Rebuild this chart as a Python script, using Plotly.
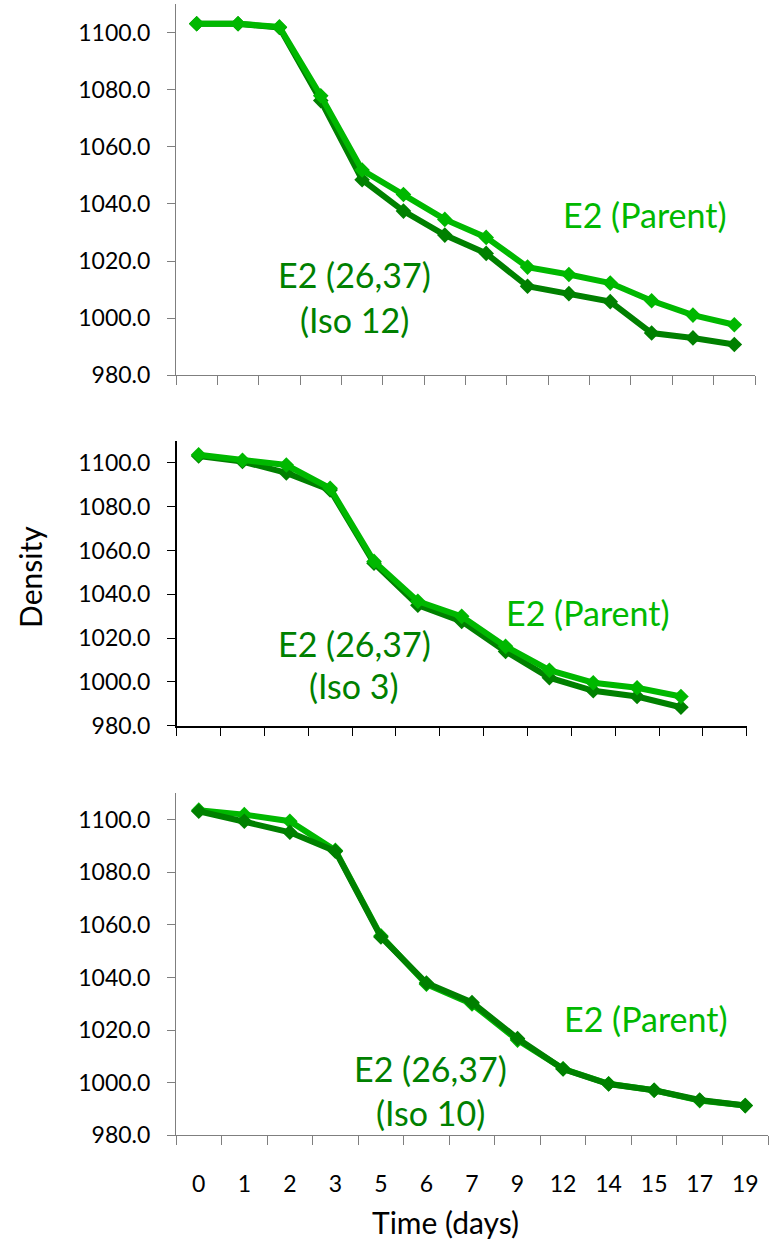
import plotly.graph_objects as go

# Sampling days shown on the shared time axis
days = ["0", "1", "2", "3", "5", "6", "7", "9", "12", "14", "15", "17", "19"]

# Panel 1: parent vs. Iso 12 (14 sampling slots, unlabelled)
p1_parent = [1103.1, 1103.1, 1102.0, 1077.9, 1051.9, 1043.3, 1034.6, 1028.3,
             1017.9, 1015.3, 1012.3, 1006.1, 1001.1, 997.7]
p1_iso = [1103.1, 1103.1, 1101.8, 1076.2, 1048.5, 1037.5, 1029.1, 1022.7,
          1011.2, 1008.6, 1005.8, 994.8, 993.1, 990.8]

# Panel 2: parent vs. Iso 3 (no sample on day 19)
p2_parent = [1103.7, 1101.2, 1099.0, 1088.4, 1055.0, 1036.8, 1029.9, 1016.2,
             1005.3, 999.6, 997.3, 993.3]
p2_iso = [1103.1, 1100.6, 1095.4, 1087.6, 1054.2, 1035.0, 1027.6, 1013.9,
          1001.9, 995.9, 993.3, 988.4]

# Panel 3: parent vs. Iso 10
p3_parent = [1103.6, 1101.9, 1099.4, 1088.3, 1055.8, 1037.4, 1029.9, 1016.2,
             1005.3, 999.6, 997.1, 993.2, 991.3]
p3_iso = [1103.2, 1099.4, 1095.2, 1088.0, 1055.4, 1037.9, 1030.5, 1016.8,
          1005.2, 999.5, 997.1, 993.4, 991.3]

y_ticks = [980, 1000, 1020, 1040, 1060, 1080, 1100]
y_range = [980, 1110]

LIGHT = "#00B800"
DARK = "#008000"
FONT = "Lato"
W, H = 769, 1243


def px_x(v):
    return v / W


def px_y(v):
    return 1 - v / H


fig = go.Figure()


def add_series(x, y, color, xa, ya):
    fig.add_trace(go.Scatter(
        x=x, y=y, xaxis=xa, yaxis=ya, mode="lines+markers",
        line=dict(color=color, width=6),
        marker=dict(symbol="diamond", size=12, color=color),
        showlegend=False, hoverinfo="skip",
    ))


top_slots = [str(i) for i in range(len(p1_parent))]

# upper panel: light line above dark
add_series(top_slots, p1_iso, DARK, "x", "y")
add_series(top_slots, p1_parent, LIGHT, "x", "y")
# middle panel
add_series(days[:len(p2_iso)], p2_iso, DARK, "x2", "y2")
add_series(days[:len(p2_parent)], p2_parent, LIGHT, "x2", "y2")
# lower panel: dark line above light
add_series(days, p3_parent, LIGHT, "x3", "y3")
add_series(days, p3_iso, DARK, "x3", "y3")

tick_font = dict(family=FONT, size=23, color="#000000")


def x_axis(domain, anchor, cats, labels, color, width):
    return dict(
        domain=domain, anchor=anchor, type="category",
        categoryorder="array", categoryarray=cats,
        range=[-0.5, len(cats) - 0.5],
        tickson="boundaries", ticks="outside", ticklen=9, tickwidth=1,
        tickcolor=color, showline=True, linecolor=color, linewidth=width,
        showgrid=False, zeroline=False, showticklabels=labels,
        tickfont=tick_font, ticklabelstandoff=28, fixedrange=True,
    )


def y_axis(domain, anchor, color, width):
    return dict(
        domain=domain, anchor=anchor, range=y_range,
        tickvals=y_ticks, tickformat=".1f", ticks="outside", ticklen=8,
        tickwidth=1, tickcolor=color, showline=True, linecolor=color,
        linewidth=width, showgrid=False, zeroline=False,
        tickfont=tick_font, ticklabelstandoff=12, fixedrange=True,
    )


GRAY = "#7F7F7F"
fig.update_layout(
    width=W, height=H, autosize=False,
    margin=dict(l=0, r=0, t=0, b=0),
    paper_bgcolor="white", plot_bgcolor="white",
    xaxis=x_axis([px_x(176), px_x(755)], "y", top_slots, False, GRAY, 1),
    yaxis=y_axis([px_y(379.3), px_y(4.1)], "x", GRAY, 1),
    xaxis2=x_axis([px_x(176.7), px_x(746.7)], "y2", days, False, "#000000", 1.5),
    yaxis2=y_axis([px_y(733.3), px_y(445.6)], "x2", "#000000", 1.5),
    xaxis3=x_axis([px_x(176), px_x(768)], "y3", days, True, GRAY, 1),
    yaxis3=y_axis([px_y(1147.3), px_y(801.7)], "x3", GRAY, 1),
)

label_size = 34


def label(text, cx, cy, color, size=label_size):
    fig.add_annotation(
        text=text, x=px_x(cx), y=px_y(cy), xref="paper", yref="paper",
        xanchor="center", yanchor="middle", showarrow=False,
        font=dict(family=FONT, size=size, color=color),
    )


# series labels
label("E2 (Parent)", 645, 217, LIGHT)
label("E2 (26,37)", 354, 277, DARK)
label("(Iso 12)", 354, 323, DARK)

label("E2 (Parent)", 588, 619, LIGHT)
label("E2 (26,37)", 354, 650, DARK)
label("(Iso 3)", 354, 693, DARK)

label("E2 (Parent)", 646, 1029, LIGHT)
label("E2 (26,37)", 430, 1080, DARK)
label("(Iso 10)", 430, 1124, DARK)

# axis titles
label("Time (days)", 445, 1235, "#000000", 30)
fig.add_annotation(
    text="Density", x=px_x(30), y=px_y(583), xref="paper", yref="paper",
    xanchor="center", yanchor="middle", showarrow=False, textangle=-90,
    font=dict(family=FONT, size=30, color="#000000"),
)

fig.write_html("out.html")
